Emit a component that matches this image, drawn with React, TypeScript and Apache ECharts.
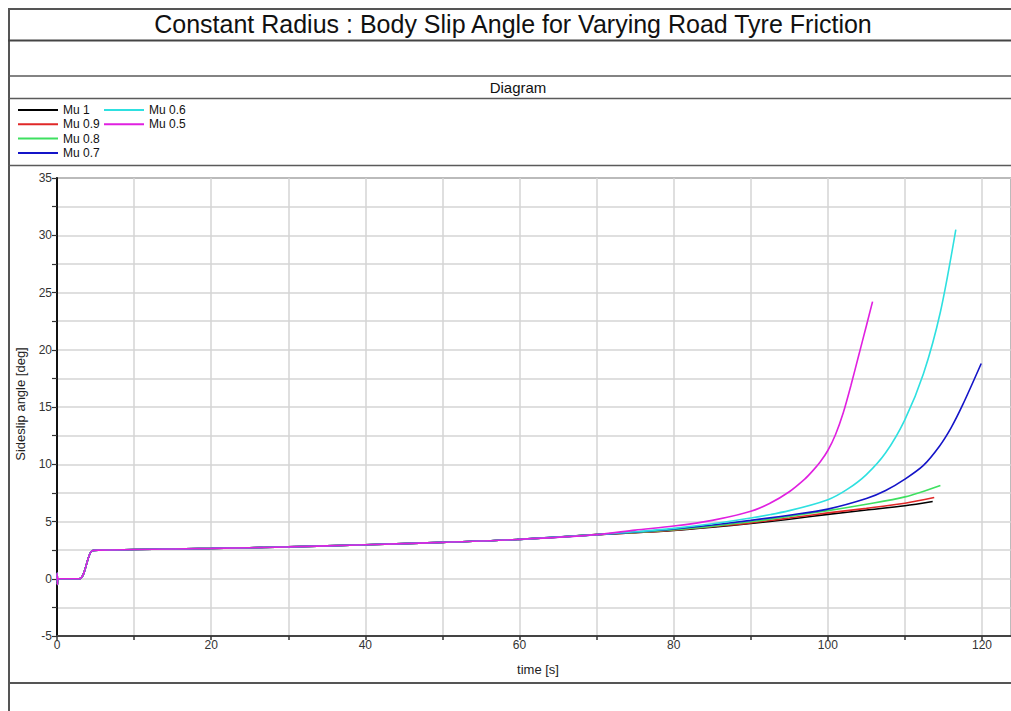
import React, { useEffect, useRef } from "react";
import * as echarts from "echarts";

// ---- Data ----
const commonTime = [0, 0.03, 0.06, 0.1, 2.9, 4.5, 5.5, 10, 20, 30, 40, 50, 60, 70];
const commonSlip = [0, 0.5, -0.5, 0, 0, 2.42, 2.5, 2.55, 2.65, 2.78, 2.97, 3.18, 3.44, 3.85];

const mu1Time = [75, 80, 85, 90, 95, 100, 105, 110, 113.6];
const mu1Slip = [4.02, 4.22, 4.5, 4.82, 5.2, 5.62, 6.0, 6.38, 6.75];

const mu09Time = [75, 80, 85, 90, 95, 100, 105, 110, 113.8];
const mu09Slip = [4.03, 4.25, 4.55, 4.88, 5.3, 5.75, 6.15, 6.6, 7.1];

const mu08Time = [75, 80, 85, 90, 95, 100, 105, 110, 114.6];
const mu08Slip = [4.05, 4.28, 4.6, 4.98, 5.45, 5.95, 6.5, 7.15, 8.15];

const mu07Time = [75, 80, 85, 90, 95, 100, 105, 107.5, 110, 112.4, 114.5, 116, 117.5, 119.9];
const mu07Slip = [4.08, 4.35, 4.7, 5.1, 5.55, 6.08, 7.0, 7.7, 8.7, 9.9, 11.6, 13.2, 15.2, 18.8];

const mu06Time = [75, 80, 85, 90, 95, 100, 102.5, 105, 107.5, 110, 112.4, 114.6, 116.6];
const mu06Slip = [4.1, 4.4, 4.8, 5.3, 5.95, 6.9, 7.8, 9.1, 11.0, 13.9, 17.9, 23.3, 30.5];

const mu05Time = [75, 80, 85, 90, 92.5, 95, 97, 98, 99, 100, 101, 102, 103, 104, 105, 105.8];
const mu05Slip = [4.25, 4.6, 5.1, 5.9, 6.6, 7.6, 8.7, 9.4, 10.2, 11.2, 12.6, 14.5, 16.9, 19.5, 22.1, 24.2];

const seriesNames = ["Mu 1", "Mu 0.9", "Mu 0.8", "Mu 0.7", "Mu 0.6", "Mu 0.5"];
const seriesColors = ["#000000", "#e02828", "#3ee060", "#1414c8", "#2ee0e0", "#e020e0"];
const tailTimes = [mu1Time, mu09Time, mu08Time, mu07Time, mu06Time, mu05Time];
const tailSlips = [mu1Slip, mu09Slip, mu08Slip, mu07Slip, mu06Slip, mu05Slip];

const titleText = "Constant Radius : Body Slip Angle for Varying Road Tyre Friction";
const subTitleText = "Diagram";
const xName = "time [s]";
const yName = "Sideslip angle [deg]";

const FONT = "'Liberation Sans', Arial, Helvetica, sans-serif";

function buildData(i: number): number[][] {
  const pts: number[][] = [];
  commonTime.forEach((t, k) => pts.push([t, commonSlip[k]]));
  tailTimes[i].forEach((t, k) => pts.push([t, tailSlips[i][k]]));
  return pts;
}

export default function App() {
  const ref = useRef<HTMLDivElement>(null);

  useEffect(() => {
    if (!ref.current) return;
    const chart = echarts.init(ref.current, null, { renderer: "svg" });
    const W = 1003;
    const frameColor = "#5a5a5a";
    const hLine = (y: number, w = 2, color = frameColor) => ({
      type: "line",
      shape: { x1: 0, y1: y, x2: W, y2: y },
      style: { stroke: color, lineWidth: w },
      silent: true,
    });

    const legendBase = {
      top: 91,
      orient: "vertical",
      itemWidth: 40,
      itemHeight: 14,
      itemGap: 2.3,
      textStyle: { fontSize: 12, color: "#111", fontFamily: FONT },
      itemStyle: { opacity: 0 },
      lineStyle: { width: 2 },
      selectedMode: false,
    };

    const option: any = {
      animation: false,
      backgroundColor: "#ffffff",
      textStyle: { fontFamily: FONT },
      legend: [
        { ...legendBase, left: 4, data: seriesNames.slice(0, 4) },
        { ...legendBase, left: 90, data: seriesNames.slice(4) },
      ],
      grid: {
        left: 49,
        top: 170,
        right: 0,
        bottom: 75,
        show: true,
        borderColor: "#444",
        borderWidth: 1.5,
        containLabel: false,
      },
      xAxis: {
        type: "value",
        min: 0,
        max: 123.76,
        interval: 10,
        axisLine: { show: true, onZero: false, lineStyle: { color: "#444", width: 2 } },
        axisTick: { show: true, length: 4, lineStyle: { color: "#333", width: 1.5 } },
        axisLabel: {
          margin: 3,
          fontSize: 12,
          color: "#333",
          fontFamily: FONT,
          showMaxLabel: false,
          formatter: (v: number) => (Math.abs(v % 20) < 1e-6 ? String(v) : ""),
        },
        splitLine: { show: true, lineStyle: { color: "#d4d4d4", width: 1.5 } },
      },
      yAxis: {
        type: "value",
        min: -5,
        max: 35,
        interval: 2.5,
        axisLine: { show: true, onZero: false, lineStyle: { color: "#111", width: 2 } },
        axisTick: { show: true, length: 5, lineStyle: { color: "#333", width: 1.2 } },
        axisLabel: {
          margin: 5,
          fontSize: 12,
          color: "#333",
          fontFamily: FONT,
          formatter: (v: number) => (Math.abs(v % 5) < 1e-6 ? String(v) : ""),
        },
        splitLine: { show: true, lineStyle: { color: "#d4d4d4", width: 1.5 } },
      },
      series: seriesNames.map((name, i) => ({
        name,
        type: "line",
        data: buildData(i),
        symbol: "none",
        smooth: 0.3,
        lineStyle: { color: seriesColors[i], width: 1.6 },
        itemStyle: { color: seriesColors[i] },
        z: 2 + i,
      })),
      graphic: [
        hLine(1, 2, "#555"),
        {
          type: "line",
          shape: { x1: 1, y1: 0, x2: 1, y2: 703 },
          style: { stroke: "#555", lineWidth: 2 },
          silent: true,
        },
        hLine(32.5, 2, "#444"),
        hLine(68, 1.5),
        hLine(90.5, 1.5),
        hLine(157.5, 1.5),
        hLine(675, 2, "#555"),
        {
          type: "text",
          x: 505,
          y: 16,
          style: {
            text: titleText,
            font: `25px ${FONT}`,
            fill: "#111",
            textAlign: "center",
            textVerticalAlign: "middle",
          },
          silent: true,
        },
        {
          type: "text",
          x: 510,
          y: 79,
          style: {
            text: subTitleText,
            font: `15px ${FONT}`,
            fill: "#111",
            textAlign: "center",
            textVerticalAlign: "middle",
          },
          silent: true,
        },
        {
          type: "text",
          x: 530,
          y: 661,
          style: {
            text: xName,
            font: `13px ${FONT}`,
            fill: "#222",
            textAlign: "center",
            textVerticalAlign: "middle",
          },
          silent: true,
        },
        {
          type: "text",
          x: 12,
          y: 396,
          rotation: Math.PI / 2,
          style: {
            text: yName,
            font: `13px ${FONT}`,
            fill: "#222",
            textAlign: "center",
            textVerticalAlign: "middle",
          },
          silent: true,
        },
      ],
    };
    chart.setOption(option);
    return () => chart.dispose();
  }, []);

  return (
    <div
      style={{
        position: "fixed",
        left: 8,
        top: 8,
        width: 1003,
        height: 703,
        overflow: "hidden",
        background: "#fff",
      }}
    >
      <div ref={ref} style={{ width: 1003, height: 703 }} />
    </div>
  );
}
